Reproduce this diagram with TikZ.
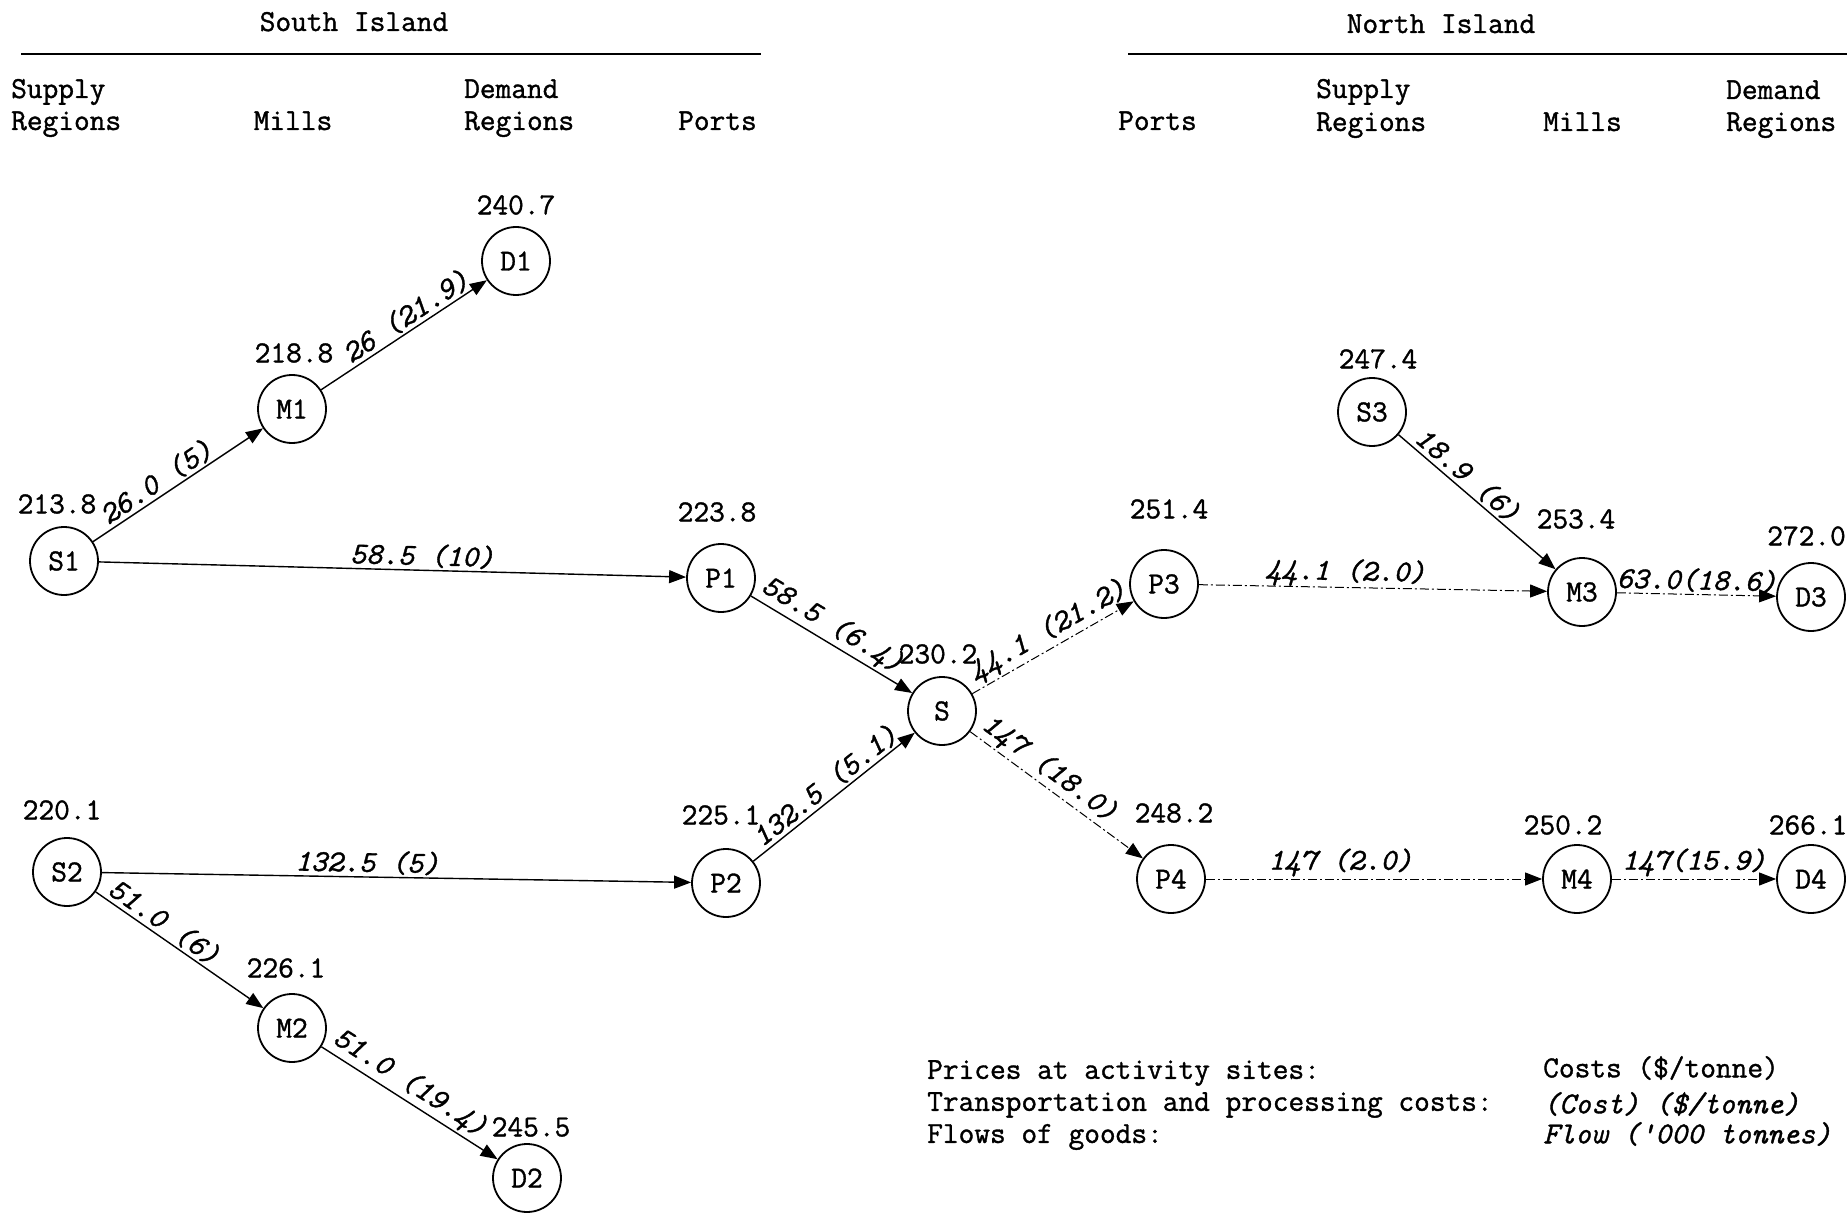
\documentclass[tikz,border=0pt]{standalone}
\usepackage{fontspec}
\setmonofont{Latin Modern Mono}[RawFeature={embolden=1.2}]
\usetikzlibrary{arrows.meta}

\begin{document}
\begin{tikzpicture}[x=1pt,y=-1pt,
  txt/.style={font=\ttfamily\fontsize{30.5}{32}\selectfont, inner sep=0pt},
  site/.style={circle, draw, line width=1.8pt, minimum size=68pt, inner sep=0pt,
    font=\ttfamily\fontsize{30.5}{32}\selectfont},
  flow/.style={line width=1.4pt, -{Triangle[length=17pt,width=13pt]}},
  weak/.style={line width=1pt, dash pattern=on 9pt off 3pt on 2pt off 3pt,
    -{Triangle[length=17pt,width=13pt]}},
  cost/.style={font=\ttfamily\itshape\fontsize{30.5}{32}\selectfont, sloped, above, inner sep=2pt},
  rule/.style={line width=2pt}]

\useasboundingbox (0,0) rectangle (1847,1214);

% --- headings (baselines) ---
\node[txt, anchor=base] (hs) at (354,31) {South Island};
\coordinate (hsa) at (21,54);
\coordinate (hsb) at (761,54);
\draw[rule] (hsa) -- (hsb);
\node[txt, anchor=base west] (hs1) at (11,98) {Supply};
\node[txt, anchor=base west] (hs2) at (11,130) {Regions};
\node[txt, anchor=base] (hs3) at (293,130) {Mills};
\node[txt, anchor=base west] (hs4) at (464,98) {Demand};
\node[txt, anchor=base west] (hs5) at (464,130) {Regions};
\node[txt, anchor=base west] (hs6) at (678,130) {Ports};

\node[txt, anchor=base] (hn) at (1441,33) {North Island};
\coordinate (hna) at (1128,54);
\coordinate (hnb) at (1847,54);
\draw[rule] (hna) -- (hnb);
\node[txt, anchor=base west] (hn1) at (1118,130) {Ports};
\node[txt, anchor=base west] (hn2) at (1316,98) {Supply};
\node[txt, anchor=base west] (hn3) at (1316,131) {Regions};
\node[txt, anchor=base west] (hn4) at (1543,131) {Mills};
\node[txt, anchor=base west] (hn5) at (1726,99) {Demand};
\node[txt, anchor=base west] (hn6) at (1726,131) {Regions};

% --- activity sites ---
\node[site] (S1) at (64,561) {S1};
\node[site] (M1) at (292,409) {M1};
\node[site] (D1) at (516,261) {D1};
\node[site] (P1) at (721,578) {P1};
\node[site] (S)  at (942,711) {S};
\node[site] (P2) at (726,883) {P2};
\node[site] (S2) at (67,872) {S2};
\node[site] (M2) at (292,1028) {M2};
\node[site] (D2) at (527,1178) {D2};
\node[site] (P3) at (1164,584) {P3};
\node[site] (P4) at (1171,879) {P4};
\node[site] (S3) at (1372,412) {S3};
\node[site] (M3) at (1582,592) {M3};
\node[site] (D3) at (1811,597) {D3};
\node[site] (M4) at (1577,879) {M4};
\node[site] (D4) at (1811,879) {D4};

% --- prices ---
\node[txt] (pD1) at (516,205) {240.7};
\node[txt] (pM1) at (294,353) {218.8};
\node[txt] (pS1) at (57,504) {213.8};
\node[txt] (pP1) at (717,512) {223.8};
\node[txt] (pS)  at (938,654) {230.2};
\node[txt] (pP2) at (721,815) {225.1};
\node[txt] (pS2) at (62,810) {220.1};
\node[txt] (pM2) at (286,968) {226.1};
\node[txt] (pD2) at (531,1127) {245.5};
\node[txt] (pP3) at (1169,509) {251.4};
\node[txt] (pP4) at (1174,813) {248.2};
\node[txt] (pS3) at (1378,359) {247.4};
\node[txt] (pM3) at (1576,519) {253.4};
\node[txt, anchor=east] (pD3) at (1846,536) {272.0};
\node[txt] (pM4) at (1563,825) {250.2};
\node[txt] (pD4) at (1808,825) {266.1};

% --- South Island flows ---
\draw[flow] (S1) -- node[cost, pos=0.42] (c1) {26.0 (5)} (M1);
\draw[flow] (M1) -- node[cost, pos=0.56] (c2) {26 (21.9)} (D1);
\draw[flow] (S1) -- node[cost, pos=0.55] (c3) {58.5 (10)} (P1);
\draw[flow] (P1) -- node[cost, pos=0.45] (c4) {58.5 (6.4)} (S);
\draw[flow] (S2) -- node[cost, pos=0.45] (c5) {132.5 (5)} (P2);
\draw[flow] (S2) -- node[cost, pos=0.36] (c6) {51.0 (6)} (M2);
\draw[flow] (M2) -- node[cost, pos=0.45] (c7) {51.0 (19.4)} (D2);
\draw[flow] (P2) -- node[cost] (c8) {132.5 (5.1)} (S);

% --- North Island flows ---
\draw[weak] (S) -- node[cost, pos=0.52] (c9) {44.1 (21.2)} (P3);
\draw[weak] (S) -- node[cost, pos=0.4] (c10) {147 (18.0)} (P4);
\draw[weak] (P3) -- node[cost, pos=0.42, inner sep=0pt] (c11) {44.1 (2.0)} (M3);
\draw[flow] (S3) -- node[cost, pos=0.38] (c12) {18.9 (6)} (M3);
\draw[weak] (M3) -- node[cost] (c13) {63.0(18.6)} (D3);
\draw[weak] (P4) -- node[cost, pos=0.4] (c14) {147 (2.0)} (M4);
\draw[weak] (M4) -- node[cost] (c15) {147(15.9)} (D4);

% --- key ---
\node[txt, anchor=west] (k1) at (927,1073) {Prices at activity sites:};
\node[txt, anchor=west] (k2) at (927,1105) {Transportation and processing costs:};
\node[txt, anchor=west] (k3) at (927,1137) {Flows of goods:};
\node[txt, anchor=west] (k4) at (1543,1068) {Costs (\$/tonne)};
\node[txt, anchor=west, font=\ttfamily\itshape\fontsize{30.5}{32}\selectfont] (k5) at (1543,1104) {(Cost) (\$/tonne)};
\node[txt, anchor=west, font=\ttfamily\itshape\fontsize{30.5}{32}\selectfont] (k6) at (1543,1134) {Flow ('000 tonnes)};

\end{tikzpicture}
\end{document}
